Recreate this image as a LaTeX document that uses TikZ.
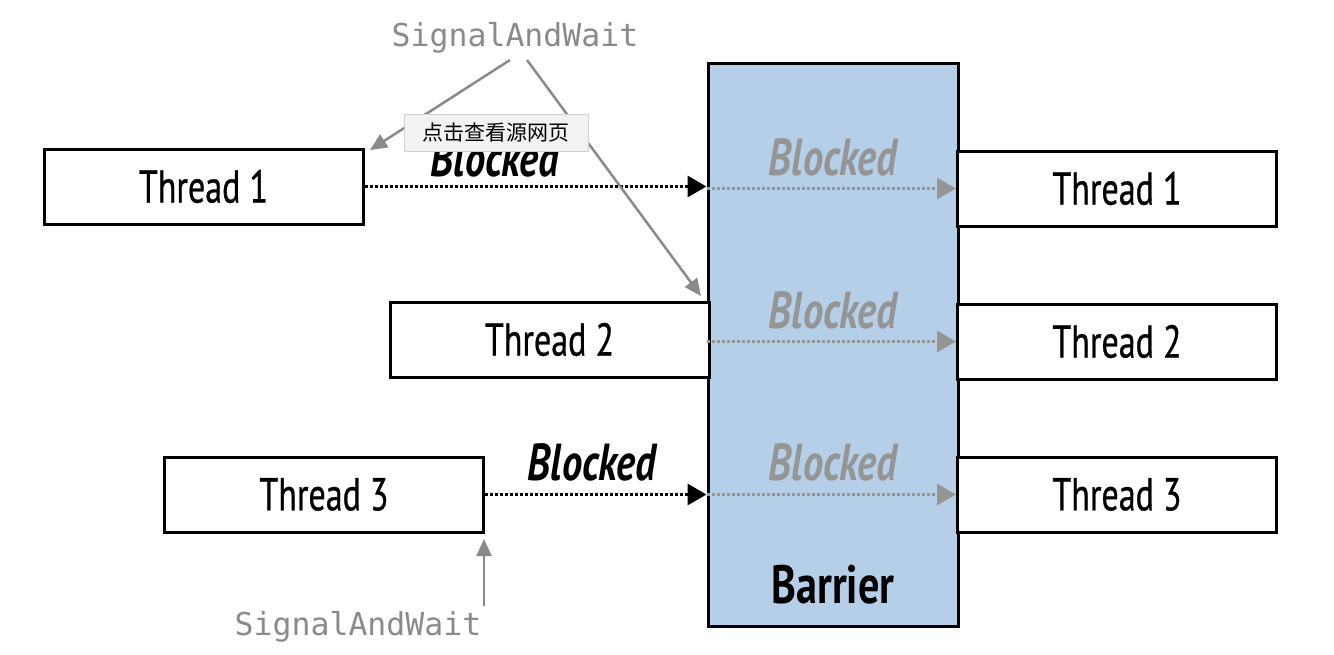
\documentclass[tikz,border=0pt]{standalone}
\usepackage{fontspec}
\setmainfont{PT Sans}[FakeStretch=0.78]
\newfontfamily\thf{PT Sans}[FakeStretch=0.74, FakeBold=0.6]
\newfontfamily\monof{DejaVu Sans Mono}
\newfontfamily\cjk{Noto Sans CJK SC}
\usetikzlibrary{arrows.meta}
\definecolor{barblue}{HTML}{B5CFE8}
\definecolor{sgray}{HTML}{8A8A8A}
\definecolor{lgray}{HTML}{959595}
\definecolor{tipbg}{HTML}{F2F2F2}
\tikzset{
  thbox/.style={draw=black, line width=3pt, fill=white, minimum width=319pt, minimum height=75pt, inner sep=0pt, font=\thf\fontsize{46}{48}\selectfont},
  blk/.style={font=\fontsize{52}{54}\selectfont\bfseries\itshape, inner sep=0pt},
  gblk/.style={blk, text=lgray},
  darr/.style={line width=3pt, dotted, -{Triangle[length=19pt,width=21pt]}},
  garr/.style={line width=3pt, dotted, color=lgray, -{Triangle[length=19pt,width=21pt]}},
  sarr/.style={line width=2.5pt, color=sgray, -{Triangle[length=17pt,width=15pt]}},
  swlab/.style={font=\monof\fontsize{31.5}{33}\selectfont, text=sgray, inner sep=0pt}
}
\begin{document}
\begin{tikzpicture}[x=1pt,y=-1pt]
\useasboundingbox (0,0) rectangle (1334,654);
% barrier
\node[draw=black, line width=3pt, fill=barblue, minimum width=250pt, minimum height=563pt, inner sep=0pt] (bar) at (833,344.5) {};
\node[font=\fontsize{54}{56}\selectfont\bfseries, inner sep=0pt] (barlab) at (833,585) {Barrier};
% left threads
\node[thbox] (t1) at (203.5,186.5) {Thread 1};
\node[thbox] (t2) at (549.5,339.5) {Thread 2};
\node[thbox] (t3) at (324,494.5) {Thread 3};
% right threads
\node[thbox] (r1) at (1117,188.5) {Thread 1};
\node[thbox] (r2) at (1117,341.5) {Thread 2};
\node[thbox] (r3) at (1117,494.5) {Thread 3};
% black arrows
\draw[darr] (t1.east) -- (t1.east -| bar.west);
\draw[darr] (t3.east) -- (t3.east -| bar.west);
\node[blk] (b1) at (495,158) {Blocked};
\node[blk] (b3) at (592,462) {Blocked};
% gray arrows in barrier
\draw[garr] (r1.west -| bar.west) -- (r1.west);
\draw[garr] (r2.west -| bar.west) -- (r2.west);
\draw[garr] (r3.west -| bar.west) -- (r3.west);
\node[gblk] (g1) at (833,157) {Blocked};
\node[gblk] (g2) at (833,310) {Blocked};
\node[gblk] (g3) at (833,462) {Blocked};
% SignalAndWait labels
\node[swlab] (sw1) at (515,38) {SignalAndWait};
\node[swlab] (sw2) at (358,627) {SignalAndWait};
\coordinate (sa) at (510,60);
\coordinate (sb) at (527,60);
\coordinate (ta) at (370,150);
\coordinate (tb) at (701,296);
\coordinate (sc) at (484,606);
\coordinate (tc) at (484,539);
\draw[sarr] (sa) -- (ta);
\draw[sarr] (sb) -- (tb);
\draw[sarr] (sc) -- (tc);
% tooltip overlay
\node[draw=black!18, fill=tipbg, minimum width=184pt, minimum height=37pt, inner sep=0pt, font=\cjk\fontsize{21}{23}\selectfont] (tip) at (496,132.5) {点击查看源网页};
\end{tikzpicture}
\end{document}
